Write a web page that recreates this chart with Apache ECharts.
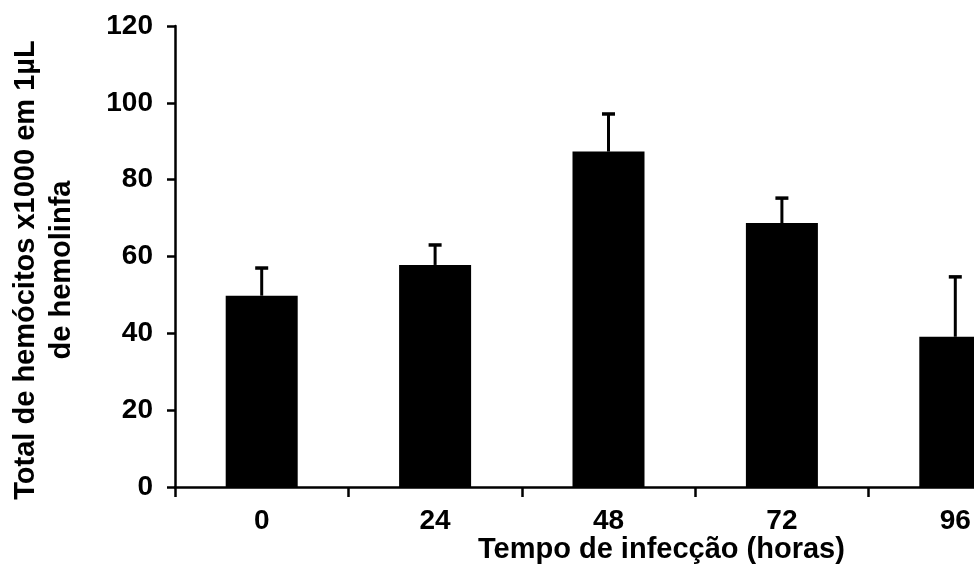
<!DOCTYPE html>
<html>
<head>
<meta charset="utf-8">
<script src="https://cdn.jsdelivr.net/npm/echarts@6/dist/echarts.min.js"></script>
<style>
html,body{margin:0;padding:0;background:#fff;overflow:hidden;width:974px;height:571px;}
#chart{width:1052px;height:571px;}
</style>
</head>
<body>
<div id="chart"></div>
<script>
const categories = ['0', '24', '48', '72', '96'];
const means = [49.8, 57.8, 87.3, 68.7, 39.1];
const errorTops = [57.0, 63.0, 97.1, 75.2, 54.7];
const yTicks = [0, 20, 40, 60, 80, 100, 120];
const xTitle = 'Tempo de infecção (horas)';
const yTitleLines = ['Total de hemócitos x1000 em 1µL', 'de hemolinfa'];

const FONT = '"Liberation Sans", Arial, sans-serif';
const chart = echarts.init(document.getElementById('chart'), null, {renderer: 'canvas'});

const errData = categories.map((c, i) => [i, means[i], errorTops[i]]);

chart.setOption({
  animation: false,
  backgroundColor: '#fff',
  grid: {left: 175, top: 26, height: 461, width: 867, containLabel: false},
  xAxis: {
    type: 'category',
    data: categories,
    boundaryGap: true,
    axisLine: {show: true, lineStyle: {color: '#000', width: 2.5}},
    axisTick: {show: true, alignWithLabel: false, length: 10, inside: false, lineStyle: {color: '#000', width: 2.5}},
    axisLabel: {color: '#000', fontFamily: FONT, fontSize: 28, fontWeight: 'bold', margin: 20},
    splitLine: {show: false}
  },
  yAxis: {
    type: 'value',
    min: yTicks[0],
    max: yTicks[yTicks.length - 1],
    interval: 20,
    axisLine: {show: true, lineStyle: {color: '#000', width: 2.5}},
    axisTick: {show: true, length: 8, inside: false, lineStyle: {color: '#000', width: 2.5}},
    axisLabel: {color: '#000', fontFamily: FONT, fontSize: 28, fontWeight: 'bold', margin: 22},
    splitLine: {show: false}
  },
  series: [
    {
      type: 'bar',
      data: means,
      barWidth: 72,
      itemStyle: {color: '#000'},
      z: 2
    },
    {
      type: 'custom',
      data: errData,
      z: 3,
      renderItem: function (params, api) {
        const x = api.value(0);
        const low = api.coord([x, api.value(1)]);
        const high = api.coord([x, api.value(2)]);
        const half = 6.5;
        return {
          type: 'group',
          children: [
            {type: 'line', shape: {x1: low[0], y1: low[1], x2: high[0], y2: high[1]}, style: {stroke: '#000', lineWidth: 3}},
            {type: 'line', shape: {x1: high[0] - half, y1: high[1], x2: high[0] + half, y2: high[1]}, style: {stroke: '#000', lineWidth: 3.5}}
          ]
        };
      }
    }
  ],
  graphic: [
    {
      type: 'text',
      left: 478,
      top: 535,
      style: {text: xTitle, fill: '#000', font: 'bold 29px ' + FONT}
    },
    {
      type: 'text',
      x: 44,
      y: 270,
      rotation: Math.PI / 2,
      style: {
        text: yTitleLines.join('\n'),
        fill: '#000',
        font: 'bold 29px ' + FONT,
        align: 'center',
        verticalAlign: 'middle',
        lineHeight: 36
      }
    }
  ]
});
</script>
</body>
</html>
